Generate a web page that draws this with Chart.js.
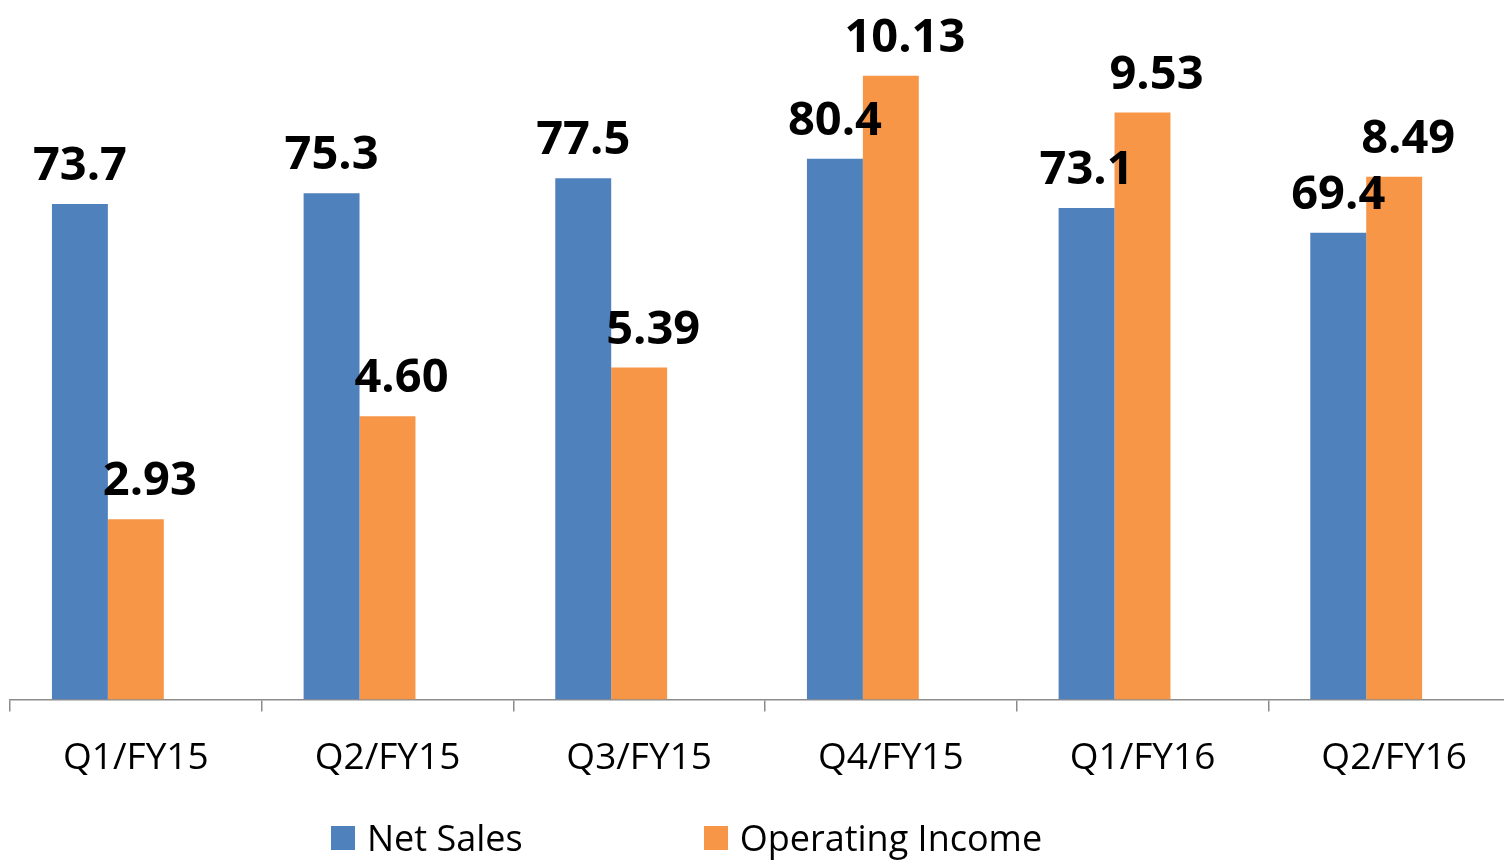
<!DOCTYPE html>
<html>
<head>
<meta charset="utf-8">
<script src="https://cdn.jsdelivr.net/npm/chart.js@4.4.1/dist/chart.umd.min.js"></script>
<style>
    html, body { margin: 0; padding: 0; background: #fff; overflow: hidden; }
    #wrap { position: relative; width: 1520px; height: 860px; }
    #legend {
        position: absolute; top: 820px; left: 331px;
        display: flex; align-items: center;
        font-family: "Open Sans", sans-serif; font-size: 36px; color: #000;
    }
    .item { display: flex; align-items: center; line-height: 36px; }
    .box { width: 24px; height: 24px; margin-right: 12px; }
</style>
</head>
<body>
<div id="wrap">
    <canvas id="chart" width="1520" height="860"></canvas>
    <div id="legend"></div>
</div>
<script>
const quarters = ['Q1/FY15', 'Q2/FY15', 'Q3/FY15', 'Q4/FY15', 'Q1/FY16', 'Q2/FY16'];
const netSales = [73.7, 75.3, 77.5, 80.4, 73.1, 69.4];
const operatingIncome = [2.93, 4.60, 5.39, 10.13, 9.53, 8.49];
// empty third slot per group, like the original sheet
const spacer = [null, null, null, null, null, null];

const BLUE = '#4F81BD';
const ORANGE = '#F79646';

// value labels above bars
const barLabels = {
    id: 'barLabels',
    afterDatasetsDraw: (chart) => {
        const ctx = chart.ctx;
        ctx.save();
        ctx.font = 'bold 47px "Open Sans"';
        ctx.fillStyle = '#000';
        ctx.textAlign = 'center';
        ctx.textBaseline = 'alphabetic';
        [0, 1].forEach(i => {
            const meta = chart.getDatasetMeta(i);
            const ds = chart.data.datasets[i];
            meta.data.forEach((bar, j) => {
                const text = i === 0 ? ds.data[j].toFixed(1) : ds.data[j].toFixed(2);
                const dx = i === 1 ? 14 : 0;
                ctx.fillText(text, bar.x + dx, bar.y - 24);
            });
        });
        ctx.restore();
    }
};

new Chart(document.getElementById('chart'), {
    type: 'bar',
    data: {
        labels: quarters,
        datasets: [
            { label: 'Net Sales', data: netSales, backgroundColor: BLUE, yAxisID: 'y' },
            { label: 'Operating Income', data: operatingIncome, backgroundColor: ORANGE, yAxisID: 'y1' },
            { label: '', data: spacer, backgroundColor: 'transparent', yAxisID: 'y' }
        ]
    },
    options: {
        responsive: false,
        animation: false,
        barPercentage: 1,
        categoryPercentage: 2 / 3,
        layout: { padding: { left: 10, right: 0, top: 27, bottom: 54 } },
        scales: {
            x: {
                offset: true,
                grid: { offset: true, drawOnChartArea: false, drawTicks: true, tickLength: 12, color: '#8c8c8c', lineWidth: 1.5 },
                border: { display: true, color: '#8c8c8c', width: 1.5 },
                ticks: { color: '#000', padding: 25, font: { family: 'Open Sans', size: 37, lineHeight: 1.2 } }
            },
            y: { display: false, min: 0, max: 100 },
            y1: { display: false, min: 0, max: 10.92 }
        },
        plugins: {
            legend: { display: false },
            tooltip: { enabled: false }
        }
    },
    plugins: [barLabels]
});

const legend = document.getElementById('legend');
[['Net Sales', BLUE], ['Operating Income', ORANGE]].forEach(([name, color], i) => {
    const item = document.createElement('div');
    item.className = 'item';
    if (i === 1) item.style.marginLeft = '181px';
    item.innerHTML = `<span class="box" style="background:${color}"></span><span>${name}</span>`;
    legend.appendChild(item);
});
</script>
</body>
</html>
